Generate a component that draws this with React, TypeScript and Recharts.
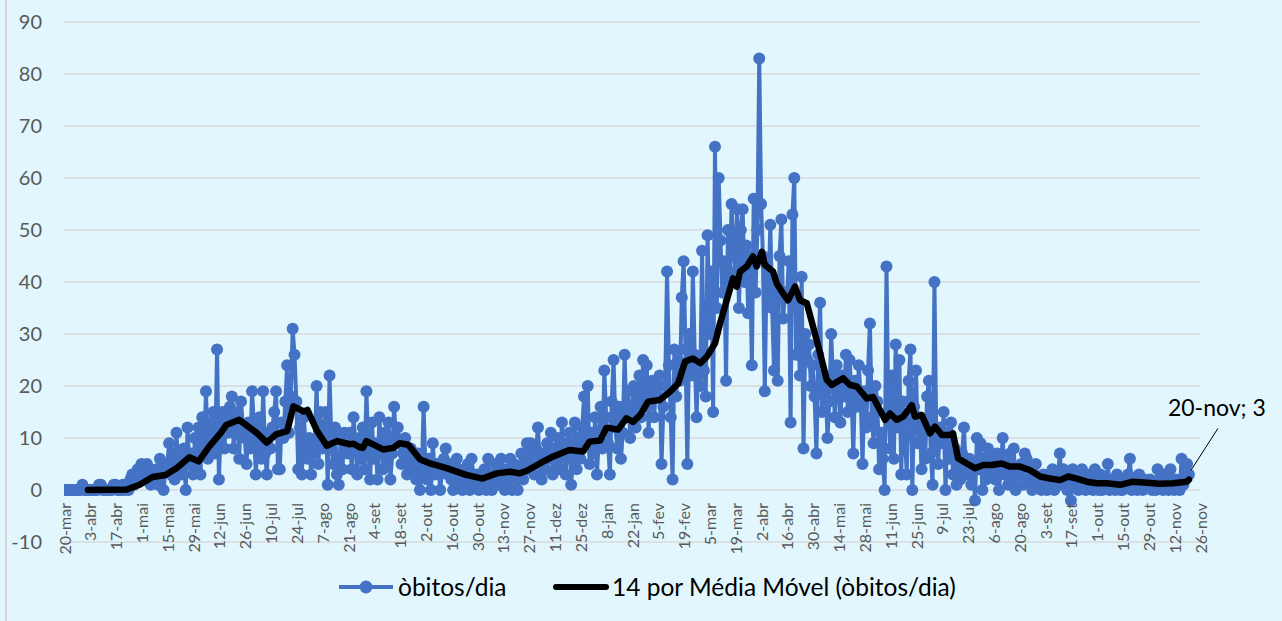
import { LineChart, Line, XAxis, YAxis, CartesianGrid, LabelList } from 'recharts'

// 14-day ticks, 20-mar-2020 .. 26-nov-2021
const tickLabels = [
  '20-mar', '3-abr', '17-abr', '1-mai', '15-mai', '29-mai', '12-jun', '26-jun', '10-jul', '24-jul',
  '7-ago', '21-ago', '4-set', '18-set', '2-out', '16-out', '30-out', '13-nov', '27-nov', '11-dez',
  '25-dez', '8-jan', '22-jan', '5-fev', '19-fev', '5-mar', '19-mar', '2-abr', '16-abr', '30-abr',
  '14-mai', '28-mai', '11-jun', '25-jun', '9-jul', '23-jul', '6-ago', '20-ago', '3-set', '17-set',
  '1-out', '15-out', '29-out', '12-nov', '26-nov',
]
const yTicks = [-10, 0, 10, 20, 30, 40, 50, 60, 70, 80, 90]
const lastDateLabel = '20-nov'

// óbitos por dia, one row = 14 days starting at each tick
const obitosDia = [
  0, 0, 0, 0, 0, 0, 0, 0, 0, 0, 1, 0, 0, 0,
  0, 0, 0, 0, 0, 1, 1, 0, 0, 0, 0, 0, 0, 1,
  1, 0, 0, 0, 1, 0, 1, 0, 2, 3, 1, 2, 4, 3,
  5, 3, 2, 5, 4, 1, 3, 2, 4, 1, 6, 3, 0, 4,
  5, 9, 3, 7, 2, 11, 4, 6, 3, 8, 0, 12, 5, 7,
  3, 10, 4, 12, 3, 14, 8, 19, 6, 13, 9, 15, 7, 27,
  2, 12, 15, 8, 14, 11, 16, 18, 8, 13, 15, 6, 17, 12,
  10, 5, 13, 8, 19, 12, 3, 9, 14, 6, 19, 7, 3, 11,
  8, 12, 15, 19, 4, 4, 13, 10, 17, 24, 11, 18, 31, 26,
  17, 4, 12, 3, 14, 9, 6, 10, 3, 7, 9, 20, 5, 15,
  8, 12, 15, 1, 22, 9, 5, 12, 3, 1, 10, 4, 11, 8,
  7, 11, 4, 14, 9, 3, 10, 6, 12, 4, 19, 8, 2, 13,
  6, 9, 2, 14, 8, 4, 11, 5, 13, 2, 7, 16, 10, 12,
  9, 5, 7, 10, 3, 6, 8, 4, 5, 2, 7, 0, 3, 16,
  4, 2, 6, 0, 9, 3, 5, 5, 0, 4, 6, 8, 3, 5,
  2, 0, 5, 6, 1, 3, 0, 4, 2, 5, 0, 6, 3, 1,
  3, 0, 2, 1, 4, 0, 6, 2, 0, 3, 5, 1, 4, 6,
  2, 0, 4, 1, 6, 0, 5, 3, 0, 4, 7, 2, 5, 9,
  4, 9, 6, 3, 8, 12, 5, 2, 7, 4, 9, 6, 11, 3,
  8, 5, 10, 4, 13, 7, 3, 9, 11, 1, 6, 13, 4, 10,
  6, 12, 18, 9, 20, 5, 11, 7, 14, 3, 10, 16, 8, 23,
  14, 9, 3, 17, 25, 12, 8, 16, 6, 11, 26, 14, 19, 10,
  15, 20, 12, 18, 22, 14, 25, 17, 24, 11, 19, 21, 14, 20,
  18, 22, 5, 16, 20, 42, 24, 14, 2, 27, 18, 25, 21, 37,
  44, 27, 5, 30, 22, 42, 26, 14, 25, 20, 46, 23, 18, 49,
  30, 42, 15, 66, 35, 60, 48, 38, 44, 21, 50, 40, 55, 46,
  42, 54, 35, 50, 54, 40, 47, 34, 45, 24, 56, 38, 50, 83,
  55, 45, 19, 43, 37, 51, 35, 23, 40, 21, 45, 52, 33, 38,
  37, 44, 13, 53, 60, 26, 35, 22, 41, 8, 30, 25, 28, 20,
  24, 18, 7, 26, 36, 15, 22, 20, 10, 17, 30, 21, 14, 24,
  20, 13, 22, 18, 26, 15, 25, 19, 7, 21, 16, 24, 18, 5,
  19, 12, 23, 32, 14, 9, 20, 17, 4, 11, 6, 0, 43, 15,
  8, 22, 6, 28, 12, 25, 3, 17, 10, 3, 21, 27, 0, 16,
  23, 9, 14, 4, 12, 6, 18, 21, 7, 1, 40, 10, 5, 12,
  9, 15, 0, 11, 6, 13, 3, 8, 1, 5, 2, 7, 12, 4,
  3, 6, 1, 5, -2, 10, 4, 9, 0, 6, 2, 8, 3, 5,
  6, 2, 7, 0, 4, 10, 3, 5, 1, 7, 2, 8, 0, 4,
  3, 5, 1, 7, 6, 2, 4, 0, 3, 5, 1, 2, 0, 3,
  2, 0, 3, 1, 4, 0, 2, 3, 7, 1, 4, 2, 0, 3,
  -2, 4, 1, 3, 0, 2, 4, 1, 0, 3, 1, 2, 0, 4,
  1, 0, 3, 0, 2, 1, 5, 0, 2, 1, 0, 3, 1, 0,
  0, 2, 1, 3, 6, 0, 1, 2, 0, 3, 1, 0, 2, 1,
  1, 2, 0, 1, 0, 4, 1, 2, 0, 3, 1, 0, 4, 1,
  0, 2, 1, 0, 6, 1, 2, 5, 3,
]

// 14-period moving average (day index, value)
const maDays = [
  13, 34, 41, 48, 55, 61, 68, 73, 79, 85, 88, 95, 101, 104.5, 110, 115, 121, 124.4, 130, 132,
  137, 142.5, 148, 155, 157, 160.5, 162, 164, 173, 178.6, 182, 186.7, 193, 198.5, 207.5, 218, 227, 234.6, 242, 247,
  251, 258, 265, 274, 281.5, 285, 290.7, 294, 296, 300.4, 305, 308.6, 312.4, 316.7, 323, 328.6, 333, 336.8, 341, 345,
  348.5, 353, 355.7, 359.4, 362.8, 364.8, 366.6, 370.2, 373.6, 375.6, 378.4, 380, 384.5, 386.5, 389.9, 392.6, 396.4, 399.1, 402.8, 406.2,
  410, 413.6, 416.3, 422.5, 426.2, 429.9, 435.3, 438.7, 445.2, 447.9, 451.6, 455, 459.7, 461.5, 465.1, 469.6, 472.3, 476, 480.5, 482.1,
  484.8, 489.5, 494, 498.4, 503.1, 508.5, 513, 518.4, 523.9, 529.3, 534.7, 540.1, 544.6, 549.2, 554.6, 560, 565.5, 572.7, 579.7, 587.1,
  594.4, 601.4, 608.8, 610,
]
const maValues = [
  0, 0.1, 1.0, 2.5, 2.9, 4.2, 6.3, 5.5, 8.5, 11, 12.5, 13.5, 11.9, 11, 9.1, 10.7, 11.3, 16.1, 15.1, 15.4,
  11.5, 8.5, 9.4, 8.8, 8.9, 8.2, 8.1, 9.4, 7.8, 8.1, 9.0, 8.7, 5.9, 5.1, 4.2, 2.9, 2.2, 3.2, 3.5, 3.2,
  3.7, 5.1, 6.4, 7.7, 7.4, 9.3, 9.5, 11.9, 11.9, 11.6, 13.8, 13.1, 14.4, 17, 17.3, 18.9, 20.5, 24.7, 25.3, 24.4,
  25.6, 28.2, 32, 36.5, 40.7, 39.1, 42, 43, 44.9, 43, 45.8, 43.3, 42, 39.7, 37.8, 36.5, 39.1, 36.5, 35.9, 31.4,
  26.3, 21.2, 20.2, 21.5, 20.2, 19.9, 17.6, 17.9, 13.5, 14.7, 13.5, 14.1, 16.3, 14.1, 14.4, 10.9, 12.2, 10.6, 10.6, 10.9,
  6.1, 5.1, 4.2, 4.8, 4.8, 5.1, 4.5, 4.5, 3.8, 2.6, 2.2, 1.9, 2.6, 2.2, 1.6, 1.3, 1.3, 1.0, 1.6, 1.4,
  1.2, 1.3, 1.6, 2.0,
]

const W = 1282
const H = 621
const PLOT_TOP = 22
const PLOT_BOTTOM = 542
const ZERO_Y = PLOT_TOP + (PLOT_BOTTOM - PLOT_TOP) * 0.9
const FONT = 'Lato, "Open Sans", sans-serif'
const BLUE = '#4472C4'

const obitosData = obitosDia.map((v, i) => ({ d: i, v }))
const maData = maDays.map((d, i) => ({ d, v: maValues[i] }))
const xTicks = tickLabels.map((_, i) => i * 14)

function DateTick(props: any) {
  const { x, payload } = props
  const label = tickLabels[Math.round(payload.value / 14)]
  const ty = ZERO_Y + 13
  return (
    <text
      x={x}
      y={ty}
      transform={`rotate(-90, ${x}, ${ty})`}
      textAnchor="end"
      dominantBaseline="central"
      fill="#595959"
      fontSize={16}
      fontFamily={FONT}
    >
      {label}
    </text>
  )
}

function LastLabel(props: any) {
  const { x, y, index, value } = props
  if (index !== obitosDia.length - 1) return null
  return (
    <g>
      <line x1={x + 2} y1={y - 4} x2={x + 29} y2={y - 46} stroke="#000" strokeWidth={1} />
      <text x={x - 21} y={y - 58} fontSize={23} fontFamily={FONT} fill="#000">
        {`${lastDateLabel}; ${value}`}
      </text>
    </g>
  )
}

export default function App() {
  return (
    <div
      style={{
        position: 'fixed',
        left: 0,
        top: 0,
        width: W,
        height: H,
        background: '#E1F7FD',
        fontFamily: FONT,
        overflow: 'hidden',
      }}
    >
      <div style={{ position: 'absolute', left: 5, top: 0, width: 2, height: H, background: '#D6D6D6' }} />
      <LineChart width={W} height={H} margin={{ top: PLOT_TOP, right: 82, bottom: 0, left: 0 }}>
        <CartesianGrid vertical={false} stroke="#D9D9D9" strokeWidth={1.5} />
        <XAxis
          type="number"
          dataKey="d"
          domain={[0, 616]}
          ticks={xTicks}
          interval={0}
          tick={<DateTick />}
          axisLine={false}
          tickLine={false}
          height={79}
          allowDataOverflow
        />
        <YAxis
          type="number"
          domain={[-10, 90]}
          ticks={yTicks}
          interval={0}
          axisLine={false}
          tickLine={false}
          tickSize={0}
          tickMargin={22}
          width={64}
          tick={{ fontSize: 20, fill: '#595959', fontFamily: FONT }}
        />
        <Line
          data={obitosData}
          dataKey="v"
          name="òbitos/dia"
          stroke={BLUE}
          strokeWidth={4}
          strokeLinejoin="round"
          dot={{ r: 6, fill: BLUE, stroke: 'none' }}
          activeDot={false}
          isAnimationActive={false}
        >
          <LabelList dataKey="v" content={<LastLabel />} />
        </Line>
        <Line
          data={maData}
          dataKey="v"
          name="14 por Média Móvel (òbitos/dia)"
          stroke="#000"
          strokeWidth={6.5}
          strokeLinejoin="round"
          strokeLinecap="round"
          dot={false}
          activeDot={false}
          isAnimationActive={false}
          {...({ zIndex: 1500 } as any)}
        />
      </LineChart>
      <div
        style={{
          position: 'absolute',
          left: 0,
          top: 572,
          width: W,
          height: 30,
          fontSize: 24.5,
          color: '#000',
        }}
      >
        <svg style={{ position: 'absolute', left: 339, top: 8 }} width={54} height={14}>
          <line x1={0} y1={7} x2={54} y2={7} stroke={BLUE} strokeWidth={4} />
          <circle cx={27} cy={7} r={6.5} fill={BLUE} />
        </svg>
        <span style={{ position: 'absolute', left: 398, top: 0, lineHeight: '30px' }}>òbitos/dia</span>
        <svg style={{ position: 'absolute', left: 553, top: 8 }} width={56} height={14}>
          <line x1={3} y1={7} x2={53} y2={7} stroke="#000" strokeWidth={6} strokeLinecap="round" />
        </svg>
        <span style={{ position: 'absolute', left: 612, top: 0, lineHeight: '30px' }}>
          14 por Média Móvel (òbitos/dia)
        </span>
      </div>
    </div>
  )
}
